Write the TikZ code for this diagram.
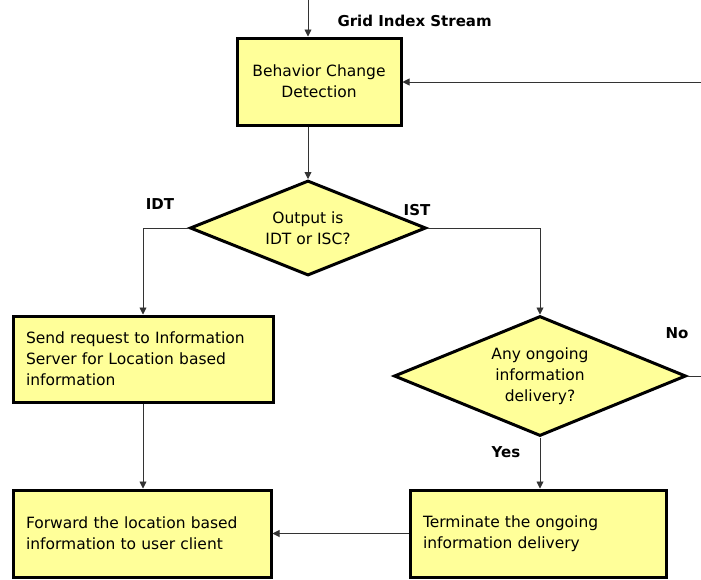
\documentclass[tikz,border=0pt]{standalone}
\usepackage{fontspec}
\setmainfont{DejaVu Sans}
\usetikzlibrary{arrows.meta,positioning,shapes.geometric,calc}
\definecolor{boxfill}{RGB}{255,255,153}

\begin{document}
\begin{tikzpicture}[
  x=1pt,y=-1pt,
  font=\fontsize{15.5}{21}\selectfont,
  >={Triangle[length=7pt,width=7pt]},
  proc/.style={
    draw,
    line width=3pt,
    fill=boxfill,
    inner sep=0pt
  },
  decide/.style={
    draw,
    diamond,
    aspect=2.5,
    line width=3pt,
    fill=boxfill,
    inner sep=0pt,
    align=center
  },
  tag/.style={font=\fontsize{15}{18}\selectfont\bfseries},
  flow/.style={->,line width=0.9pt,draw=black!80}
]
\useasboundingbox (0,0) rectangle (701,579);
\node[proc,minimum width=164pt,minimum height=87pt,align=center] (bcd) at (319,81.5) {Behavior Change\\Detection};
\node[decide,minimum width=236pt,minimum height=95pt] (out) at (308,228) {Output is\\IDT or ISC?};
\node[proc,minimum width=260pt,minimum height=86pt,align=left,text width=234pt] (req) at (143,359) {Send request to Information\\Server for Location based\\information};
\node[decide,minimum width=292pt,minimum height=120pt] (ongo) at (540,376) {Any ongoing\\information\\delivery?};
\node[proc,minimum width=258pt,minimum height=87pt,align=left,text width=232pt] (fwd) at (142,533.5) {Forward the location based\\information to user client};
\node[proc,minimum width=256pt,minimum height=87pt,align=left,text width=230pt] (term) at (538,533.5) {Terminate the ongoing\\information delivery};
% labels
\node[tag,anchor=west] (gis) at (334,21) {Grid Index Stream};
\node[tag] (idt) at (160,204) {IDT};
\node[tag] (ist) at (417,210) {IST};
\node[tag] (no) at (677,333) {No};
\node[tag] (yes) at (506,452) {Yes};
% free ends
\coordinate (in) at (308,0);
\coordinate (back) at (701,82);
\coordinate (loop) at (701,376);
% connectors
\draw[flow] (in) -- (in |- bcd.north);
\draw[flow] (back) -- (bcd.east |- back);
\draw[flow] (bcd.south -| out.north) -- (out.north);
\draw[flow] (out.west) -| (req.north);
\draw[flow] (out.east) -| (ongo.north);
\draw[line width=0.9pt,draw=black!80] (ongo.east) -- (loop);
\draw[flow] (ongo.south) -- (ongo.south |- term.north);
\draw[flow] (req.south) -- (req.south |- fwd.north);
\draw[flow] (term.west) -- (fwd.east);
\end{tikzpicture}
\end{document}
